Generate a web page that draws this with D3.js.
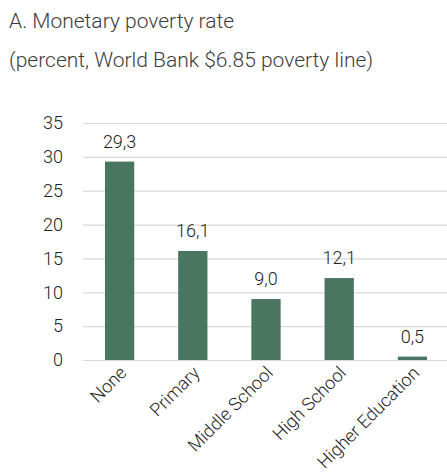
<!DOCTYPE html>
<html><head><meta charset="utf-8">
<script src="https://cdn.jsdelivr.net/npm/d3@7"></script>
<style>body{margin:0;background:#fff;} svg{display:block;}</style>
</head><body>
<script>
const categories = ["None", "Primary", "Middle School", "High School", "Higher Education"];
const values = [29.3, 16.1, 9.0, 12.1, 0.5];
const yTicks = [0, 5, 10, 15, 20, 25, 30, 35];
const titleLines = ["A. Monetary poverty rate", "(percent, World Bank $6.85 poverty line)"];

const W = 447, H = 476;
const font = "Roboto, 'Noto Sans', sans-serif";
const svg = d3.select("body").append("svg").attr("width", W).attr("height", H);

svg.selectAll("text.title").data(titleLines).enter().append("text")
  .attr("x", 9).attr("y", (d, i) => 28 + i * 39)
  .attr("font-family", font).attr("font-weight", 300).attr("font-size", 21)
  .attr("fill", "#3c3c3c").text(d => d);

const x = d3.scaleBand().domain(categories).range([83, 449]).paddingInner(0.6).paddingOuter(0.3);
const y = d3.scaleLinear().domain([0, 35]).range([360, 123]);

const yAxis = svg.append("g").attr("transform", "translate(83,0)")
  .call(d3.axisLeft(y).tickValues(yTicks).tickSize(-(W - 83)).tickPadding(20));
yAxis.select(".domain").remove();
yAxis.selectAll(".tick line").attr("stroke", "#d9d9d9").attr("stroke-width", 1.2);
yAxis.selectAll(".tick text").attr("font-family", font).attr("font-weight", 300)
  .attr("font-size", 18).attr("fill", "#222");

svg.selectAll("rect.bar").data(values).enter().append("rect")
  .attr("x", (d, i) => x(categories[i])).attr("width", x.bandwidth())
  .attr("y", d => y(d)).attr("height", d => y(0) - y(d))
  .attr("fill", "#4a7560");

svg.selectAll("text.val").data(values).enter().append("text")
  .attr("x", (d, i) => x(categories[i]) + x.bandwidth() / 2)
  .attr("y", d => y(d) - 14)
  .attr("text-anchor", "middle")
  .attr("font-family", font).attr("font-weight", 300).attr("font-size", 18).attr("fill", "#222")
  .text(d => d.toFixed(1).replace(".", ","));

const xAxis = svg.append("g").attr("transform", "translate(0,360)")
  .call(d3.axisBottom(x).tickSize(0).tickPadding(0));
xAxis.select(".domain").attr("stroke", "#d9d9d9").attr("stroke-width", 1.2);
xAxis.selectAll(".tick text")
  .attr("font-family", font).attr("font-weight", 300).attr("font-size", 18).attr("fill", "#222")
  .attr("text-anchor", "end").attr("dy", 0).attr("y", 0)
  .attr("transform", "translate(8,14) rotate(-45)");
</script>
</body></html>
